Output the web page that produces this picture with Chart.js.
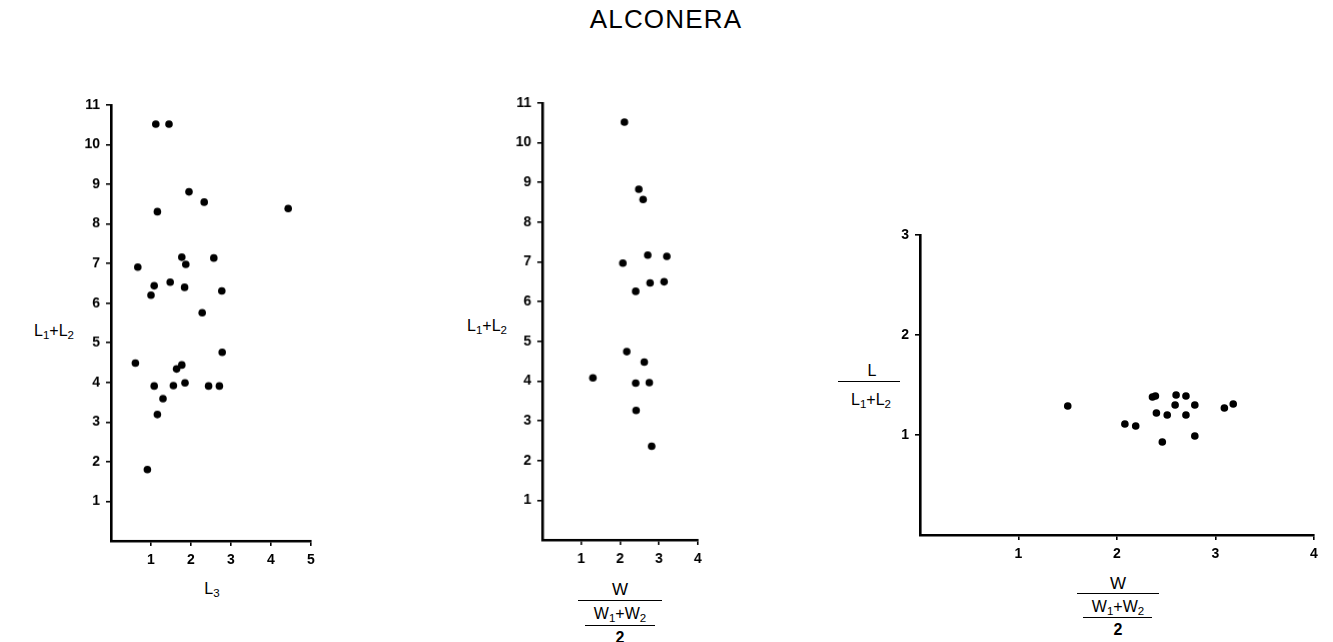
<!DOCTYPE html>
<html><head><meta charset="utf-8">
<script src="https://cdn.jsdelivr.net/npm/chart.js@4.4.0/dist/chart.umd.min.js"></script>
<style>
body{margin:0;background:#fff;width:1333px;height:642px;overflow:hidden;position:relative;font-family:"Liberation Sans",Arial,sans-serif;color:#000}
.t{position:absolute;transform:translate(-50%,-50%);white-space:nowrap;line-height:1;color:#000}
.ln{position:absolute;height:0;border-top:1.8px solid #000}
canvas{position:absolute}
sub{font-size:72%;vertical-align:-0.3em;line-height:0}
</style></head><body>
<div class="t" style="left:666px;top:19px;font-size:26px;letter-spacing:1.2px">ALCONERA</div>

<!-- panel 1 labels -->
<div class="t" style="left:54px;top:331px;font-size:16px">L<sub>1</sub>+L<sub>2</sub></div>
<div class="t" style="left:212px;top:589px;font-size:16px">L<sub>3</sub></div>

<!-- panel 2 labels -->
<div class="t" style="left:487px;top:326px;font-size:16px">L<sub>1</sub>+L<sub>2</sub></div>
<div class="t" style="left:620px;top:589px;font-size:17px">W</div>
<div class="ln" style="left:578px;top:600px;width:84px"></div>
<div class="t" style="left:620px;top:614px;font-size:16px">W<sub>1</sub>+W<sub>2</sub></div>
<div class="ln" style="left:585px;top:625px;width:70px"></div>
<div class="t" style="left:620px;top:638px;font-size:16px;font-weight:bold">2</div>

<!-- panel 3 labels -->
<div class="t" style="left:872px;top:371px;font-size:16px">L</div>
<div class="ln" style="left:838px;top:381px;width:62px"></div>
<div class="t" style="left:871px;top:400px;font-size:16px">L<sub>1</sub>+L<sub>2</sub></div>
<div class="t" style="left:1118px;top:583px;font-size:17px">W</div>
<div class="ln" style="left:1077px;top:593px;width:82px"></div>
<div class="t" style="left:1118px;top:607px;font-size:16px">W<sub>1</sub>+W<sub>2</sub></div>
<div class="ln" style="left:1083px;top:617px;width:69px"></div>
<div class="t" style="left:1118px;top:630px;font-size:16px;font-weight:bold">2</div>

<canvas id="c1"></canvas>
<canvas id="c2"></canvas>
<canvas id="c3"></canvas>

<script>
// Panel 1: L1+L2 vs L3
const p1L3 = [1.12,1.45,1.95,2.33,1.16,4.43,0.67,1.77,1.87,2.57,1.08,1.00,1.48,1.84,2.77,2.28,0.61,2.78,1.64,1.77,1.08,1.56,1.85,2.44,2.71,1.30,1.16,0.91];
const p1L12 = [10.52,10.52,8.81,8.55,8.31,8.39,6.91,7.16,6.98,7.14,6.44,6.20,6.53,6.40,6.31,5.76,4.49,4.76,4.34,4.44,3.91,3.92,3.99,3.91,3.91,3.59,3.19,1.80];
const p1XTicks = [1,2,3,4,5];
const p1YTicks = [1,2,3,4,5,6,7,8,9,10,11];

// Panel 2: L1+L2 vs W/((W1+W2)/2)
const p2W = [2.11,2.48,2.59,2.07,2.71,3.20,2.40,2.77,3.13,1.30,2.17,2.62,2.40,2.75,2.41,2.81];
const p2L12 = [10.52,8.83,8.57,6.97,7.17,7.14,6.26,6.47,6.50,4.08,4.74,4.48,3.95,3.96,3.26,2.36];
const p2XTicks = [1,2,3,4];
const p2YTicks = [1,2,3,4,5,6,7,8,9,10,11];

// Panel 3: L/(L1+L2) vs W/((W1+W2)/2)
const p3W = [1.50,2.08,2.19,2.36,2.39,2.60,2.70,2.59,2.79,2.40,2.51,2.70,3.09,3.18,2.46,2.79];
const p3L = [1.29,1.11,1.09,1.38,1.39,1.40,1.39,1.30,1.30,1.22,1.20,1.20,1.27,1.31,0.93,0.99];
const p3XTicks = [1,2,3,4];
const p3YTicks = [1,2,3];

const FONT = '"Liberation Sans", Arial, sans-serif';

function axis(max, ticks, isX) {
  return {
    type: 'linear', min: 0, max: max,
    afterBuildTicks: s => { s.ticks = ticks.map(v => ({ value: v })); },
    afterFit: s => { if (isX) s.height = 40; else s.width = 80; },
    grid: { drawOnChartArea: false, drawTicks: true, tickLength: 5, color: '#000', lineWidth: 1.6 },
    border: { display: true, color: '#000', width: 2.6 },
    ticks: { color: '#000', font: { family: FONT, size: 14, weight: 'bold' }, padding: 6, maxRotation: 0, autoSkip: false }
  };
}

function panel(id, area, xMax, yMax, xTicks, yTicks, xs, ys) {
  const cv = document.getElementById(id);
  const w = (area.R - area.L) + 80 + 20;
  const h = (area.B - area.T) + 20 + 40;
  cv.width = w; cv.height = h;
  cv.style.left = (area.L - 80) + 'px';
  cv.style.top = (area.T - 20) + 'px';
  cv.style.width = w + 'px'; cv.style.height = h + 'px';
  new Chart(cv, {
    type: 'scatter',
    data: { datasets: [{
      data: xs.map((x, i) => ({ x: x, y: ys[i] })),
      backgroundColor: '#000', borderWidth: 0, pointRadius: 3.8, clip: false
    }]},
    options: {
      responsive: false, animation: false, devicePixelRatio: 1,
      layout: { padding: { left: 0, top: 20, right: 20, bottom: 0 } },
      plugins: { legend: { display: false }, tooltip: { enabled: false } },
      scales: { x: axis(xMax, xTicks, true), y: axis(yMax, yTicks, false) }
    }
  });
}

panel('c1', { L: 111, R: 311, T: 105.4, B: 541 }, 5, 11, p1XTicks, p1YTicks, p1L3, p1L12);
panel('c2', { L: 542, R: 697.5, T: 103.3, B: 540 }, 4, 11, p2XTicks, p2YTicks, p2W, p2L12);
panel('c3', { L: 920, R: 1314, T: 235, B: 535 }, 4, 3, p3XTicks, p3YTicks, p3W, p3L);
</script>
</body></html>
